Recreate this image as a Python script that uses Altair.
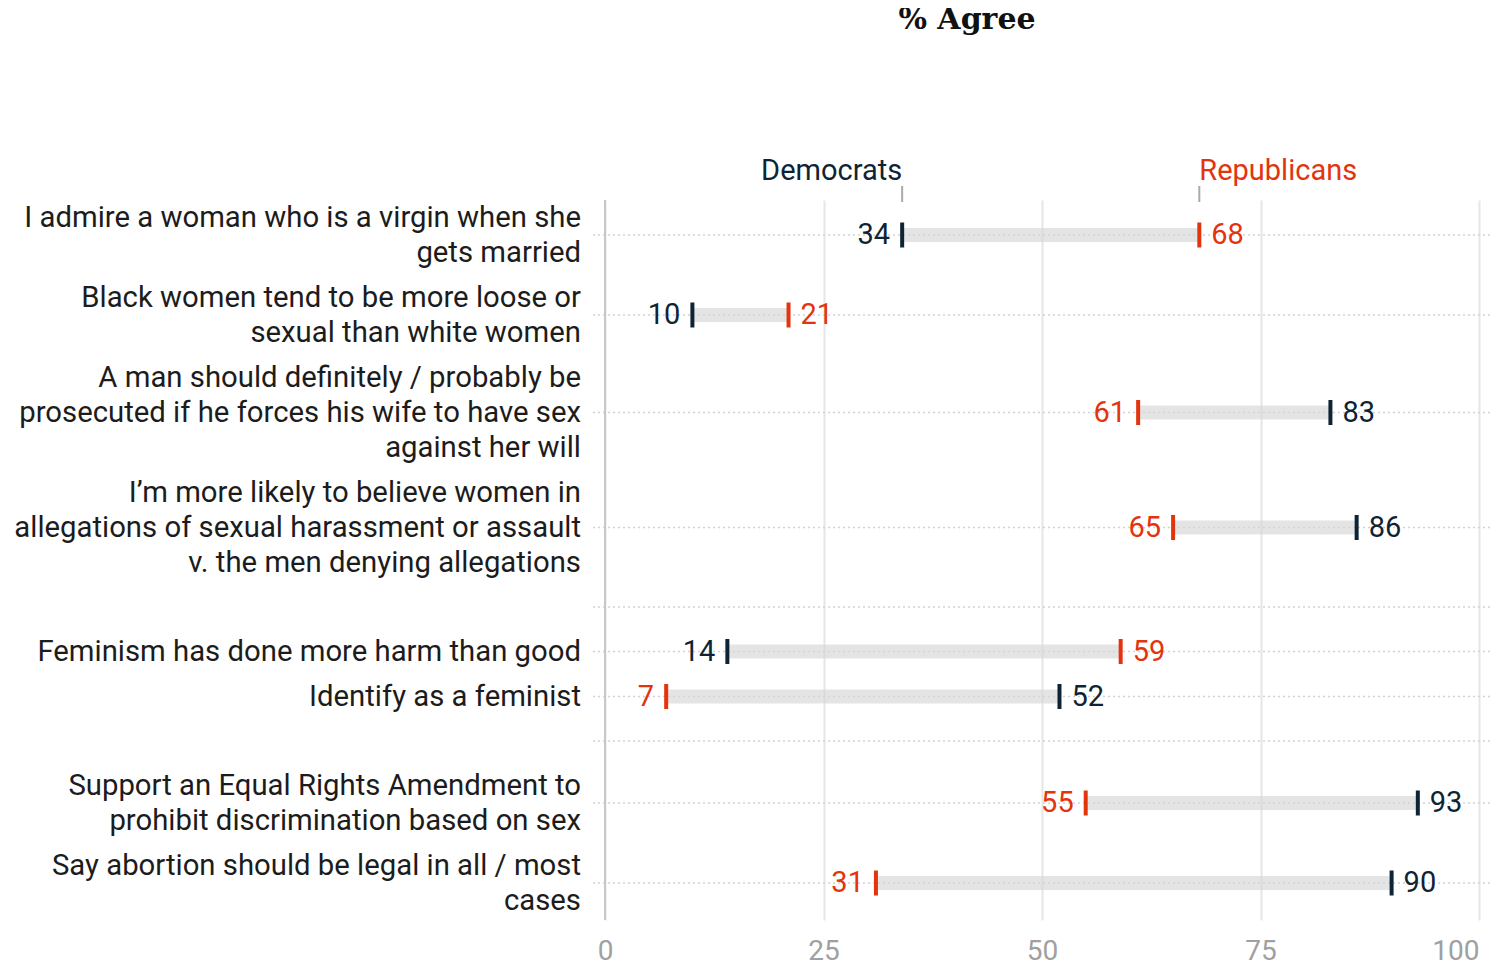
import altair as alt
import pandas as pd

# ---- data ----
questions = [
    ["I admire a woman who is a virgin when she", "gets married"],
    ["Black women tend to be more loose or", "sexual than white women"],
    ["A man should definitely / probably be", "prosecuted if he forces his wife to have sex", "against her will"],
    ["I\u2019m more likely to believe women in", "allegations of sexual harassment or assault", "v. the men denying allegations"],
    ["Feminism has done more harm than good"],
    ["Identify as a feminist"],
    ["Support an Equal Rights Amendment to", "prohibit discrimination based on sex"],
    ["Say abortion should be legal in all / most", "cases"],
]
groups = [1, 1, 1, 1, 2, 2, 3, 3]
democrats = [34, 10, 83, 86, 14, 52, 93, 90]
republicans = [68, 21, 61, 65, 59, 7, 55, 31]
parties = ["Democrats", "Republicans"]
x_ticks = [0, 25, 50, 75, 100]

# ---- layout (derived from number of label lines) ----
LINE = 35
GAP = 10
GROUP_GAP = 44
W, H = 874, 720
top = 0
ypos, seps, label_y = [], [], []
prev = None
for q, g in zip(questions, groups):
    if prev is not None and g != prev:
        seps.append(top + (GROUP_GAP - GAP) / 2)
        top += GROUP_GAP
    center = top + len(q) * LINE / 2
    ypos.append(center)
    label_y.append(center - (len(q) - 1) * LINE / 2)
    top += len(q) * LINE + GAP
    prev = g

rows = pd.DataFrame({
    "idx": range(len(questions)),
    "label": questions,
    "ypos": ypos,
    "label_y": label_y,
    "lo": [min(d, r) for d, r in zip(democrats, republicans)],
    "hi": [max(d, r) for d, r in zip(democrats, republicans)],
})

long_recs = []
for i, (d, r) in enumerate(zip(democrats, republicans)):
    for party, v, other in (("Democrats", d, r), ("Republicans", r, d)):
        long_recs.append({"idx": i, "ypos": ypos[i], "party": party, "value": v,
                          "side": "low" if v < other else "high"})
long_df = pd.DataFrame(long_recs)

lines_df = pd.DataFrame({"ypos": list(ypos) + seps})

NAVY = "#0e2435"
RED = "#e2340d"
color = alt.Color("party:N", scale=alt.Scale(domain=parties, range=[NAVY, RED]), legend=None)

xaxis = alt.Axis(values=x_ticks, grid=True, gridColor="#e6e6e6", gridWidth=2,
                 domain=False, ticks=False, labelFontSize=28, labelColor="#a0a0a0",
                 labelPadding=17, title=None,
                 labelAlign=alt.condition("datum.value == 100", alt.value("right"), alt.value("center")))
xscale = alt.Scale(domain=[0, 100], nice=False, zero=True)
yscale = alt.Scale(domain=[0, H], reverse=True, nice=False, zero=False)


def X(field):
    return alt.X(field, type="quantitative", scale=xscale, axis=xaxis)


def Y(field="ypos"):
    return alt.Y(field, type="quantitative", scale=yscale, axis=None)


dotted = alt.Chart(lines_df).mark_rule(color="#d2d2d2", strokeWidth=1.5, strokeDash=[2, 3]).encode(
    y=Y(), x=alt.value(-12), x2=alt.value(W + 12))

zero_rule = alt.Chart(rows).mark_rule(color="#c8c8c8", strokeWidth=2).encode(
    x=alt.X("z:Q", scale=xscale, axis=xaxis)).transform_calculate(z="0")

bars = alt.Chart(rows).mark_rule(strokeWidth=14, color="#d6d6d6", opacity=0.65, strokeCap="butt").encode(
    x=X("lo"), x2="hi", y=Y())

ticks = alt.Chart(long_df).mark_tick(thickness=4, size=25, orient="vertical", opacity=1).encode(
    x=X("value"), y=Y(), color=color)

low_txt = alt.Chart(long_df).transform_filter("datum.side == 'low'").mark_text(
    align="right", baseline="middle", dx=-12, fontSize=29, font="Roboto").encode(
    x=X("value"), y=Y(), text="value:Q", color=color)

high_txt = alt.Chart(long_df).transform_filter("datum.side == 'high'").mark_text(
    align="left", baseline="middle", dx=12, fontSize=29, font="Roboto").encode(
    x=X("value"), y=Y(), text="value:Q", color=color)

q_labels = alt.Chart(rows).mark_text(
    align="right", baseline="middle", fontSize=29.3, lineHeight=LINE, font="Roboto", color="#1c1c1c").encode(
    x=alt.value(-24), y=Y("label_y"), text="label")

first = long_df[long_df["idx"] == 0]
party_low = alt.Chart(first).transform_filter("datum.side == 'low'").mark_text(
    align="right", baseline="alphabetic", fontSize=29, font="Roboto").encode(
    x=X("value"), y=alt.value(-20), text="party:N", color=color)
party_high = alt.Chart(first).transform_filter("datum.side == 'high'").mark_text(
    align="left", baseline="alphabetic", fontSize=29, font="Roboto").encode(
    x=X("value"), y=alt.value(-20), text="party:N", color=color)
party_ticks = alt.Chart(first).mark_rule(color="#aaaaaa", strokeWidth=2).encode(
    x=X("value"), y=alt.value(-14), y2=alt.value(2))

title = alt.Chart(rows).transform_filter("datum.idx == 0").mark_text(
    align="center", baseline="alphabetic", fontSize=30, font="DejaVu Serif", fontWeight="bold",
    color="#111111").encode(x=alt.value(362), y=alt.value(-171), text=alt.value("% Agree"))

chart = alt.layer(
    dotted, bars, zero_rule, ticks, low_txt, high_txt, q_labels,
    party_low, party_high, party_ticks, title
).properties(
    width=W, height=H,
    autosize=alt.AutoSizeParams(type="none"),
    padding={"left": 597, "top": 192, "right": 24, "bottom": 47},
).configure(font="Roboto").configure_view(stroke=None)

chart.save("out.html", embed_options={"renderer": "svg", "actions": False})
